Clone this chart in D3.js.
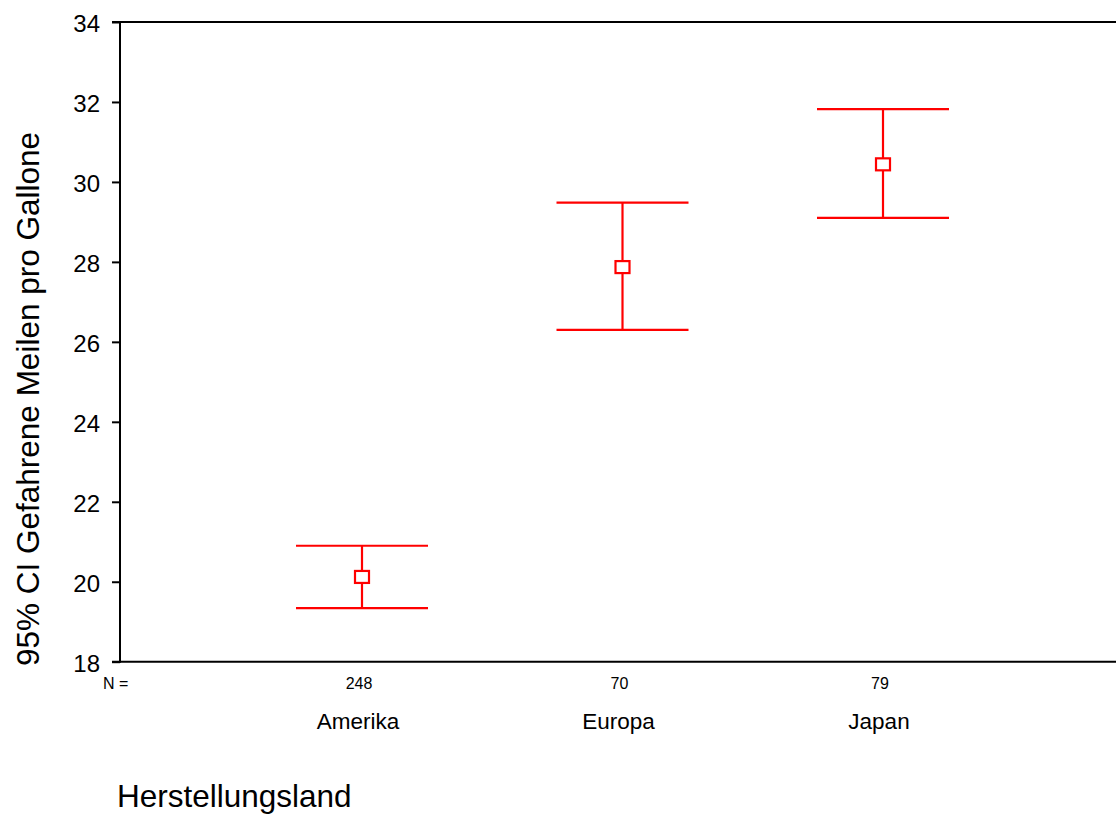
<!DOCTYPE html>
<html>
<head>
<meta charset="utf-8">
<script src="https://cdn.jsdelivr.net/npm/d3@7"></script>
<style>
  html, body { margin: 0; padding: 0; background: #fff; }
  svg { display: block; font-family: Arial, "Liberation Sans", sans-serif; }
</style>
</head>
<body>
<svg id="chart" width="1116" height="817"></svg>
<script>
const categories = ["Amerika", "Europa", "Japan"];
const counts = [248, 70, 79];
const means = [20.12, 27.87, 30.44];
const upper = [20.90, 29.48, 31.82];
const lower = [19.34, 26.30, 29.10];
const yTicks = [18, 20, 22, 24, 26, 28, 30, 32, 34];
const yTitle = "95% CI Gefahrene Meilen pro Gallone";
const xTitle = "Herstellungsland";

(function () {
const plotLeft = 120, plotRight = 1116, plotTop = 22, plotBottom = 661.7;

const svg = d3.select("#chart");

const y = d3.scaleLinear().domain([18, 34]).range([plotBottom, plotTop]);
const x = d3.scalePoint().domain(categories).range([362, 883]);

// y axis ticks
const yAxis = d3.axisLeft(y).tickValues(yTicks).tickSize(8).tickPadding(12).tickFormat(d3.format("d"));
const gy = svg.append("g").attr("transform", `translate(${plotLeft},0)`).call(yAxis);
gy.select(".domain").remove();
gy.selectAll(".tick line").attr("stroke", "#000").attr("stroke-width", 2);
gy.selectAll(".tick text").attr("font-size", 24).attr("fill", "#000")
  .attr("font-family", "Arial, 'Liberation Sans', sans-serif").attr("dy", "0.4em");

// frame lines
const frame = svg.append("g").attr("stroke", "#000").attr("stroke-width", 2).attr("fill", "none");
frame.append("line").attr("x1", plotLeft).attr("x2", plotLeft).attr("y1", plotTop - 1).attr("y2", plotBottom + 1);
frame.append("line").attr("x1", plotLeft - 8).attr("x2", plotRight).attr("y1", plotTop).attr("y2", plotTop);
frame.append("line").attr("x1", plotLeft - 8).attr("x2", plotRight).attr("y1", plotBottom).attr("y2", plotBottom);

// error bars
const half = 66;
const data = categories.map((c, i) => ({ c, n: counts[i], m: means[i], hi: upper[i], lo: lower[i] }));
const g = svg.append("g").attr("stroke", "#ff0000").attr("stroke-width", 2.2).attr("fill", "none");
const bars = g.selectAll("g.bar").data(data).join("g").attr("class", "bar");
bars.append("line").attr("x1", d => x(d.c)).attr("x2", d => x(d.c))
  .attr("y1", d => y(d.hi)).attr("y2", d => y(d.lo));
bars.append("line").attr("x1", d => x(d.c) - half).attr("x2", d => x(d.c) + half)
  .attr("y1", d => y(d.hi)).attr("y2", d => y(d.hi));
bars.append("line").attr("x1", d => x(d.c) - half).attr("x2", d => x(d.c) + half)
  .attr("y1", d => y(d.lo)).attr("y2", d => y(d.lo));
bars.append("rect").attr("x", d => x(d.c) - 7).attr("y", d => y(d.m) - 6)
  .attr("width", 14).attr("height", 12).attr("fill", "#fff");

// N labels
svg.append("text").attr("x", 103).attr("y", 689).attr("font-size", 16).text("N =");
svg.selectAll("text.n").data(data).join("text").attr("class", "n")
  .attr("x", d => x(d.c) - 3).attr("y", 689).attr("text-anchor", "middle")
  .attr("font-size", 16).text(d => d.n);

// category labels
svg.selectAll("text.cat").data(data).join("text").attr("class", "cat")
  .attr("x", d => x(d.c) - 4).attr("y", 729).attr("text-anchor", "middle")
  .attr("font-size", 22.5).text(d => d.c);

// titles
svg.append("text").attr("x", 117).attr("y", 807).attr("font-size", 31.5).text(xTitle);
svg.append("text").attr("transform", "translate(39,399) rotate(-90)")
  .attr("text-anchor", "middle").attr("font-size", 31.5).text(yTitle);
})();
</script>
</body>
</html>
